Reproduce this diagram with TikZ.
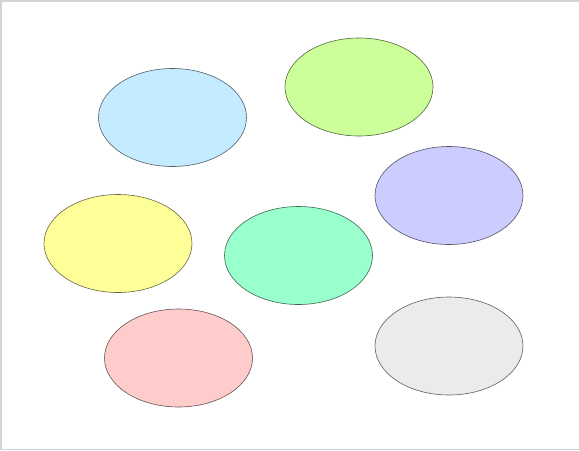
\documentclass[tikz,border=0pt]{standalone}
\usetikzlibrary{shapes.geometric}
\definecolor{cblue}{HTML}{C4EBFF}
\definecolor{cgreen}{HTML}{CCFF99}
\definecolor{cpurple}{HTML}{CCCCFF}
\definecolor{cyellow}{HTML}{FFFF99}
\definecolor{cmint}{HTML}{99FFCC}
\definecolor{cpink}{HTML}{FFCCCC}
\definecolor{cgray}{HTML}{EBEBEB}
\definecolor{frame}{HTML}{D4D4D4}
\tikzset{blob/.style={ellipse, minimum width=148pt, minimum height=98pt, inner sep=0pt, line width=0.6pt}}
\begin{document}
\begin{tikzpicture}[x=1pt,y=-1pt]
\useasboundingbox (0,0) rectangle (580,450);
\draw[frame, line width=1.5pt] (0.75,0.75) rectangle (579.25,449.25);
\node[blob, fill=cblue, draw=cblue!40!black] (e1) at (172.5,117.5) {};
\node[blob, fill=cgreen, draw=cgreen!40!black] (e2) at (359,87) {};
\node[blob, fill=cpurple, draw=cpurple!40!black] (e3) at (449,195.5) {};
\node[blob, fill=cyellow, draw=cyellow!40!black] (e4) at (118,243.5) {};
\node[blob, fill=cmint, draw=cmint!40!black] (e5) at (298.5,255.5) {};
\node[blob, fill=cpink, draw=cpink!40!black] (e6) at (178.5,358) {};
\node[blob, fill=cgray, draw=cgray!40!black] (e7) at (449,346) {};
\end{tikzpicture}
\end{document}
